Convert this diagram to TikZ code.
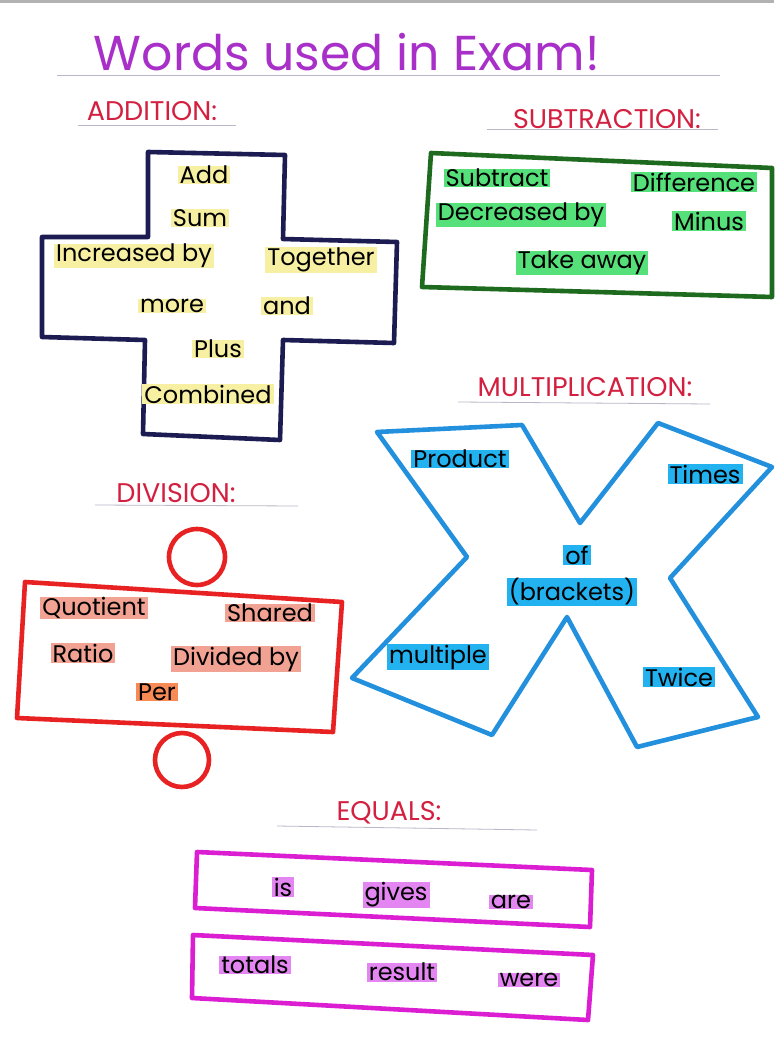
\documentclass[tikz,border=0pt]{standalone}
\usepackage{fontspec}
\setmainfont{Poppins}
\definecolor{titlepurple}{HTML}{A830C8}
\definecolor{headred}{HTML}{D42040}
\definecolor{navyline}{HTML}{1C1C52}
\definecolor{greenline}{HTML}{1E6A1E}
\definecolor{blueline}{HTML}{2290DC}
\definecolor{redline}{HTML}{E82222}
\definecolor{magline}{HTML}{DC1ED2}
\definecolor{hlyellow}{HTML}{F7F0A2}
\definecolor{hlgreen}{HTML}{55E07A}
\definecolor{hlblue}{HTML}{22B2F0}
\definecolor{hlsalmon}{HTML}{F2A292}
\definecolor{hlorange}{HTML}{F88A55}
\definecolor{hlviolet}{HTML}{E486F2}
\definecolor{ruleline}{HTML}{B8B8C8}
\tikzset{
  outline/.style={line width=4.6pt, line join=round, line cap=round},
  heading/.style={text=headred, font=\fontsize{27}{30}\selectfont, inner sep=1pt},
  word/.style={fill=#1, text=black, font=\fontsize{24}{27}\selectfont, inner xsep=2pt, inner ysep=0.5pt},
  rulestyle/.style={draw=ruleline, line width=0.8pt}
}
\begin{document}
\begin{tikzpicture}[x=1pt,y=-1pt]
\fill[white] (0,0) rectangle (774,1056);
\useasboundingbox (0,0) rectangle (774,1056);
\fill[gray!60] (0,0) rectangle (774,3);

% Title
\node[text=titlepurple, font=\fontsize{49}{55}\selectfont] (title) at (347,52) {Words used in Exam!};
\coordinate (titleL) at (57,75); \coordinate (titleR) at (720,75);
\draw[rulestyle] (titleL) -- (titleR);

% Headings
\node[heading] (hadd) at (152,111) {ADDITION:};
\coordinate (haddL) at (78,125); \coordinate (haddR) at (236,125);
\draw[rulestyle] (haddL) -- (haddR);
\node[heading] (hsub) at (607,119) {SUBTRACTION:};
\coordinate (hsubL) at (487,129); \coordinate (hsubR) at (718,129);
\draw[rulestyle] (hsubL) -- (hsubR);
\node[heading] (hmul) at (585,387) {MULTIPLICATION:};
\coordinate (hmulL) at (458,402); \coordinate (hmulR) at (710,404);
\draw[rulestyle] (hmulL) -- (hmulR);
\node[heading] (hdiv) at (176,493) {DIVISION:};
\coordinate (hdivL) at (95,505); \coordinate (hdivR) at (298,506);
\draw[rulestyle] (hdivL) -- (hdivR);
\node[heading] (hequ) at (389,813) {EQUALS:};
\coordinate (hequL) at (277,826); \coordinate (hequR) at (537,830);
\draw[rulestyle] (hequL) -- (hequR);

% Addition cross
\draw[outline, navyline] (148,152) -- (285,155) -- (283,239) -- (397,242) -- (394,343)
  -- (283,340) -- (280,440) -- (143,434) -- (145,340) -- (42,337) -- (42,237) -- (148,237) -- cycle;
\node[word=hlyellow] (add) at (204,175) {Add};
\node[word=hlyellow] (sum) at (200,218) {Sum};
\node[word=hlyellow] (incr) at (134,256) {Increased by};
\node[word=hlyellow] (tog) at (321,260) {Together};
\node[word=hlyellow] (more) at (172,306) {more};
\node[word=hlyellow] (and) at (287,306) {and};
\node[word=hlyellow] (plus) at (218,349) {Plus};
\node[word=hlyellow] (comb) at (208,394) {Combined};

% Subtraction box
\draw[outline, greenline] (431,153) -- (772,168) -- (772,297) -- (422,287) -- cycle;
\node[word=hlgreen] (subt) at (497,178) {Subtract};
\node[word=hlgreen] (diff) at (694,182) {Difference};
\node[word=hlgreen] (decr) at (521,215) {Decreased by};
\node[word=hlgreen] (minus) at (709,221) {Minus};
\node[word=hlgreen] (take) at (582,263) {Take away};

% Multiplication X
\draw[outline, blueline] (377,432) -- (522,425) -- (580,523) -- (658,423) -- (772,467)
  -- (670,578) -- (758,717) -- (637,747) -- (567,617) -- (492,735) -- (352,678)
  -- (467,557) -- cycle;
\node[word=hlblue] (prod) at (460,459) {Product};
\node[word=hlblue] (times) at (705,474) {Times};
\node[word=hlblue] (of) at (577,555) {of};
\node[word=hlblue] (brack) at (572,592) {(brackets)};
\node[word=hlblue] (mult) at (438,657) {multiple};
\node[word=hlblue] (twice) at (679,677) {Twice};

% Division
\draw[outline, redline] (197,557) circle (28);
\draw[outline, redline] (25,582) -- (342,602) -- (333,732) -- (17,718) -- cycle;
\draw[outline, redline] (182,760) circle (27);
\node[word=hlsalmon] (quot) at (94,608) {Quotient};
\node[word=hlsalmon] (shared) at (270,613) {Shared};
\node[word=hlsalmon] (ratio) at (83,653) {Ratio};
\node[word=hlsalmon] (divby) at (236,659) {Divided by};
\node[word=hlorange] (per) at (157,692) {Per};

% Equals
\draw[outline, magline] (197,852) -- (592,870) -- (590,927) -- (195,908) -- cycle;
\draw[outline, magline] (193,935) -- (593,955) -- (588,1020) -- (192,998) -- cycle;
\node[word=hlviolet] (is) at (283,887) {is};
\node[word=hlviolet] (gives) at (396,895) {gives};
\node[word=hlviolet] (are) at (511,902) {are};
\node[word=hlviolet] (totals) at (255,965) {totals};
\node[word=hlviolet] (result) at (402,972) {result};
\node[word=hlviolet] (were) at (529,980) {were};
\end{tikzpicture}
\end{document}
